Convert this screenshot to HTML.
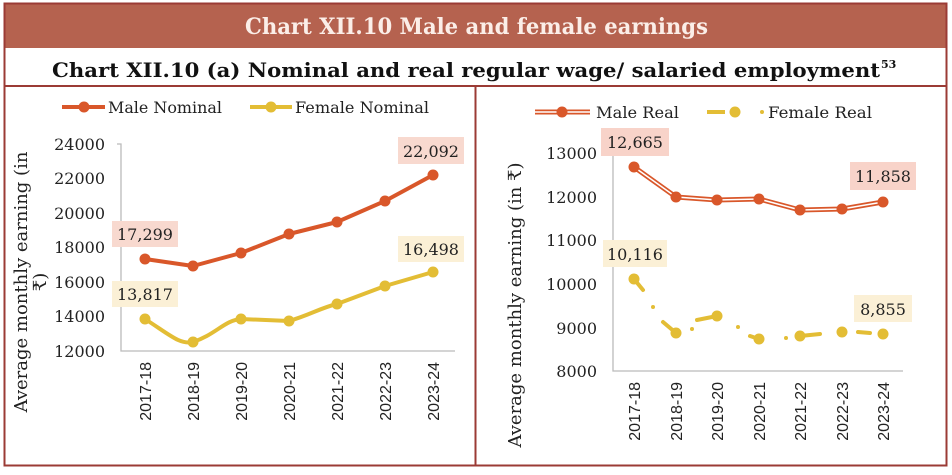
<!DOCTYPE html>
<html><head><meta charset="utf-8"><style>
body{margin:0;background:#fff}
svg{display:block;font-family:"DejaVu Serif","Liberation Serif",serif}
.s{font-family:"Liberation Sans","DejaVu Sans",sans-serif}
</style></head><body>
<svg width="952" height="475" viewBox="0 0 952 475" xmlns="http://www.w3.org/2000/svg">
<rect x="0" y="0" width="952" height="475" fill="#fff"/>
<rect x="4" y="3" width="943" height="45" fill="#b5624f"/>
<text x="245" y="34" font-size="22" font-weight="bold" fill="#fbeee8" textLength="463" lengthAdjust="spacingAndGlyphs">Chart XII.10 Male and female earnings</text>
<text x="52" y="77" font-size="20" font-weight="bold" fill="#111" textLength="828" lengthAdjust="spacingAndGlyphs">Chart XII.10 (a) Nominal and real regular wage/ salaried employment</text>
<text x="881" y="68" font-size="11" font-weight="bold" fill="#111">53</text>
<rect x="4.5" y="3.5" width="942" height="462" fill="none" stroke="#9b3b35" stroke-width="2"/>
<line x1="4" y1="86" x2="947" y2="86" stroke="#9b3b35" stroke-width="2"/>
<line x1="475.5" y1="86" x2="475.5" y2="466" stroke="#9b3b35" stroke-width="2"/>

<!-- LEFT -->
<g font-size="16" fill="#222">
<line x1="62" y1="107" x2="105" y2="107" stroke="#d9572a" stroke-width="4"/><circle cx="84" cy="107" r="5.5" fill="#d9572a"/>
<text x="108" y="113" textLength="114" lengthAdjust="spacingAndGlyphs">Male Nominal</text>
<line x1="250" y1="107" x2="292" y2="107" stroke="#e3bd35" stroke-width="4"/><circle cx="271" cy="107" r="5.5" fill="#e3bd35"/>
<text x="295" y="113" textLength="134" lengthAdjust="spacingAndGlyphs">Female Nominal</text>
</g>
<g font-size="16" fill="#222" text-anchor="end">
<text x="105" y="150">24000</text><text x="105" y="184">22000</text><text x="105" y="219">20000</text><text x="105" y="253">18000</text><text x="105" y="288">16000</text><text x="105" y="322">14000</text><text x="105" y="357">12000</text>
</g>
<path d="M117 144 H121 V351 H455" fill="none" stroke="#bbb" stroke-width="1.3"/>
<text transform="translate(27,282) rotate(-90)" font-size="18" fill="#222" text-anchor="middle">Average monthly earning (in</text>
<text transform="translate(46,282) rotate(-90)" font-size="18" fill="#222" text-anchor="middle">₹)</text>
<g class="s" font-size="16" fill="#222" text-anchor="end">
<text transform="translate(151,362) rotate(-90)">2017-18</text>
<text transform="translate(199,362) rotate(-90)">2018-19</text>
<text transform="translate(247,362) rotate(-90)">2019-20</text>
<text transform="translate(295,362) rotate(-90)">2020-21</text>
<text transform="translate(343,362) rotate(-90)">2021-22</text>
<text transform="translate(391,362) rotate(-90)">2022-23</text>
<text transform="translate(439,362) rotate(-90)">2023-24</text>
</g>
<polyline points="145,259 193,266 241,253 289,234 337,222 385,201 433,175" fill="none" stroke="#d9572a" stroke-width="4" stroke-linejoin="round"/>
<g fill="#d9572a"><circle cx="145" cy="259" r="5.5"/><circle cx="193" cy="266" r="5.5"/><circle cx="241" cy="253" r="5.5"/><circle cx="289" cy="234" r="5.5"/><circle cx="337" cy="222" r="5.5"/><circle cx="385" cy="201" r="5.5"/><circle cx="433" cy="175" r="5.5"/></g>
<path d="M145,319 C170,335 180,345 193,342 C215,335 225,320 241,319 L289,321 C310,315 320,308 337,304 L385,286 L433,272" fill="none" stroke="#e3bd35" stroke-width="4" stroke-linejoin="round"/>
<g fill="#e3bd35"><circle cx="145" cy="319" r="5.5"/><circle cx="193" cy="342" r="5.5"/><circle cx="241" cy="319" r="5.5"/><circle cx="289" cy="321" r="5.5"/><circle cx="337" cy="304" r="5.5"/><circle cx="385" cy="286" r="5.5"/><circle cx="433" cy="272" r="5.5"/></g>
<g font-size="16" fill="#222" text-anchor="middle">
<rect x="112" y="221" width="66" height="26" fill="#f8d9cf"/><text x="145" y="240">17,299</text>
<rect x="398" y="137" width="66" height="27" fill="#f8d9cf"/><text x="431" y="157">22,092</text>
<rect x="112" y="281" width="66" height="26" fill="#fbf0d6"/><text x="145" y="300">13,817</text>
<rect x="398" y="236" width="66" height="26" fill="#fbf0d6"/><text x="431" y="255">16,498</text>
</g>

<!-- RIGHT -->
<g font-size="16" fill="#222">
<line x1="535" y1="112" x2="590" y2="112" stroke="#d9572a" stroke-width="5"/><line x1="535" y1="112" x2="590" y2="112" stroke="#fff" stroke-width="1.5"/><circle cx="562" cy="112" r="5.5" fill="#d9572a"/>
<text x="596" y="118" textLength="83" lengthAdjust="spacingAndGlyphs">Male Real</text>
<line x1="707" y1="112" x2="725" y2="112" stroke="#e3bd35" stroke-width="4"/><circle cx="735" cy="112" r="5.5" fill="#e3bd35"/><circle cx="762" cy="112" r="2" fill="#e3bd35"/>
<text x="768" y="118" textLength="104" lengthAdjust="spacingAndGlyphs">Female Real</text>
</g>
<g font-size="16" fill="#222" text-anchor="end">
<text x="597" y="159">13000</text><text x="597" y="203">12000</text><text x="597" y="246">11000</text><text x="597" y="290">10000</text><text x="597" y="334">9000</text><text x="597" y="377">8000</text>
</g>
<path d="M613 156 V371 H903" fill="none" stroke="#bbb" stroke-width="1.3"/>
<text transform="translate(521,305) rotate(-90)" font-size="18" fill="#222" text-anchor="middle">Average monthly earning (in ₹)</text>
<g class="s" font-size="16" fill="#222" text-anchor="end">
<text transform="translate(640,382) rotate(-90)">2017-18</text>
<text transform="translate(682,382) rotate(-90)">2018-19</text>
<text transform="translate(723,382) rotate(-90)">2019-20</text>
<text transform="translate(765,382) rotate(-90)">2020-21</text>
<text transform="translate(806,382) rotate(-90)">2021-22</text>
<text transform="translate(848,382) rotate(-90)">2022-23</text>
<text transform="translate(889,382) rotate(-90)">2023-24</text>
</g>
<polyline points="634,167 676,197 717,200 759,199 800,210 842,209 883,202" fill="none" stroke="#d9572a" stroke-width="5" stroke-linejoin="round"/>
<polyline points="634,167 676,197 717,200 759,199 800,210 842,209 883,202" fill="none" stroke="#fff" stroke-width="1.5" stroke-linejoin="round"/>
<g fill="#d9572a"><circle cx="634" cy="167" r="5.5"/><circle cx="676" cy="197" r="5.5"/><circle cx="717" cy="200" r="5.5"/><circle cx="759" cy="199" r="5.5"/><circle cx="800" cy="210" r="5.5"/><circle cx="842" cy="209" r="5.5"/><circle cx="883" cy="202" r="5.5"/></g>
<g stroke="#e3bd35" stroke-width="4" stroke-linecap="round">
<line x1="634" y1="279" x2="643" y2="290"/><line x1="663" y1="322" x2="676" y2="333"/>
<line x1="697" y1="320" x2="717" y2="316"/><line x1="750" y1="336" x2="759" y2="339"/>
<line x1="800" y1="336" x2="820" y2="334"/><line x1="858" y1="332" x2="870" y2="333"/>
</g>
<g fill="#e3bd35"><circle cx="653" cy="307" r="2"/><circle cx="692" cy="329" r="2"/><circle cx="738" cy="327" r="2"/><circle cx="786" cy="338" r="2"/>
<circle cx="634" cy="279" r="5.5"/><circle cx="676" cy="333" r="5.5"/><circle cx="717" cy="316" r="5.5"/><circle cx="759" cy="339" r="5.5"/><circle cx="800" cy="336" r="5.5"/><circle cx="842" cy="332" r="5.5"/><circle cx="883" cy="334" r="5.5"/></g>
<g font-size="16" fill="#222" text-anchor="middle">
<rect x="601" y="128" width="68" height="28" fill="#f8d3c9"/><text x="635" y="148">12,665</text>
<rect x="850" y="162" width="66" height="28" fill="#f8d3c9"/><text x="883" y="182">11,858</text>
<rect x="603" y="240" width="64" height="27" fill="#fbf0d6"/><text x="635" y="260">10,116</text>
<rect x="854" y="295" width="58" height="27" fill="#fbf0d6"/><text x="883" y="315">8,855</text>
</g>
</svg>
</body></html>
